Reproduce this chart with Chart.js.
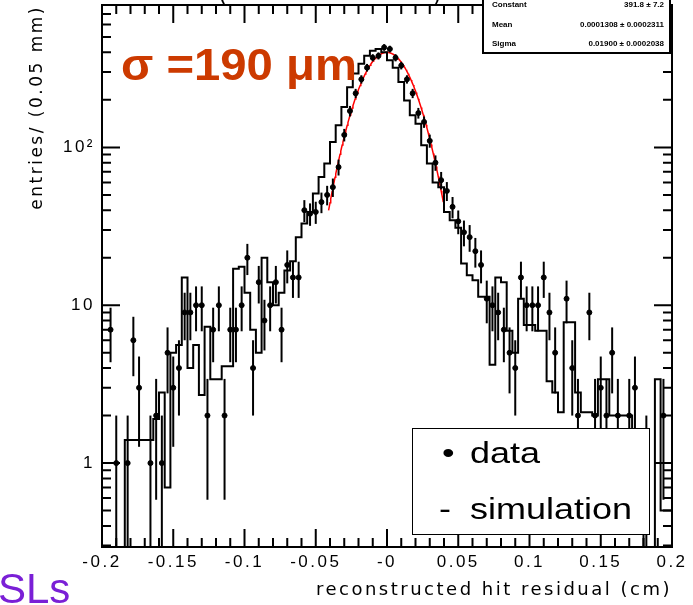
<!DOCTYPE html>
<html>
<head>
<meta charset="utf-8">
<script src="https://cdn.jsdelivr.net/npm/chart.js@4/dist/chart.umd.min.js"></script>
<style>
  html, body { margin: 0; padding: 0; background: #fff; }
  #wrap { width: 693px; height: 605px; }
</style>
</head>
<body>
<div id="wrap"><canvas id="c" width="693" height="605"></canvas></div>
<script>
// Axis ticks
const xTickValues = [-0.2, -0.15, -0.1, -0.05, 0, 0.05, 0.1, 0.15, 0.2];
const xTickLabels = ['-0.2', '-0.15', '-0.1', '-0.05', '-0', '0.05', '0.1', '0.15', '0.2'];
const yTickValues = [1, 10, 100];
const yTickLabels = ['1', '10', '10\u00B2'];

// Residual histogram binning (cm)
const binLow = -0.2;
const binWidth = 0.004;

// Measured hits per bin
const dataCounts = [
  0, 7, 1, 0, 1, 6, 3, 0, 1, 2,
  1, 5, 3, 4, 9, 9, 10, 10, 2, 7,
  10, 2, 7, 7, 10, 20, 4, 14, 8, 10,
  14, 7, 18, 15, 15, 40, 38, 39, 45, 50,
  56, 75, 120, 170, 220, 270, 320, 370, 380, 430,
  420, 370, 330, 270, 220, 165, 145, 110, 80, 62,
  53, 42, 34, 29, 27, 22, 18, 11, 10, 9,
  7, 5, 4, 15, 10, 10, 10, 15, 9, 5,
  0, 11, 4, 2, 0, 9, 2, 3, 2, 5,
  2, 0, 2, 3, 0, 1, 0, 0, 2, 0
];

// Simulated hits per bin (normalised)
const simCounts = [
  0, 0, 0, 0, 0, 1.4, 1.4, 1.4, 1.4, 1.4,
  1.9, 2.8, 0.7, 5, 5.6, 15, 4, 5.6, 2.7, 7.3,
  3.4, 3.4, 4.1, 4.1, 17, 17.5, 12, 7, 5, 20,
  14, 10, 12, 16.6, 19, 27, 33, 39, 51, 65,
  79, 108, 138, 180, 240, 294, 339, 380, 410, 420,
  400, 356, 320, 260, 198, 160, 141, 103, 79, 60,
  56, 39, 34.5, 31, 18.4, 15.5, 14.4, 11.3, 11.3, 4.2,
  15, 14, 6.9, 5, 11, 7.5, 7.5, 6.9, 6.9, 3.3,
  2.8, 2.1, 7.8, 7.8, 2.8, 2.1, 2.1, 2, 3.4, 3.4,
  2, 2, 2, 2, 1, 1, 0, 0, 3.4, 0.5
];

// Gaussian fit to the core (sigma = 190 um = 0.019 cm)
const fitConstant = 400;
const fitMean = -0.0002;
const fitSigma = 0.0190;
const fitRange = [-0.041, 0.0395];

const statsRows = [
  ['Constant', '391.8 \u00B1 7.2'],
  ['Mean', '0.0001308 \u00B1 0.0002311'],
  ['Sigma', '0.01900 \u00B1 0.0002038']
];

const yMin = 0.294, yMax = 798;

const binCenters = dataCounts.map((_, i) => binLow + (i + 0.5) * binWidth);
const binEdges = simCounts.map((_, i) => binLow + i * binWidth);

// step outline: value held from each lower edge to the next edge; empty bins drop below the axis
const simStep = simCounts.map((v, i) => ({ x: binEdges[i], y: v > 0 ? v : 1e-3 }));
simStep.push({ x: binLow + simCounts.length * binWidth, y: simCounts[simCounts.length - 1] || 1e-3 });

const dataPoints = dataCounts.map((n, i) => ({ x: binCenters[i], y: n > 0 ? n : null }));

const fitPoints = [];
for (let k = 0; k <= 160; k++) {
  const x = fitRange[0] + (fitRange[1] - fitRange[0]) * k / 160;
  fitPoints.push({ x, y: fitConstant * Math.exp(-0.5 * Math.pow((x - fitMean) / fitSigma, 2)) });
}

const AXIS_FONT = 'Liberation Sans, Arial, Helvetica, sans-serif';
const TITLE_FONT = 'DejaVu Sans, Verdana, sans-serif';

// ROOT-like axis text is spaced out; widen it only while the scales draw
const axisSpacing = {
  id: 'axisSpacing',
  beforeDraw(chart) { chart.ctx.letterSpacing = '2.5px'; },
  beforeDatasetsDraw(chart) { chart.ctx.letterSpacing = '0px'; }
};

const errorBars = {
  id: 'errorBars',
  afterDatasetsDraw(chart) {
    const { ctx, chartArea: a, scales: { x, y } } = chart;
    ctx.save();
    ctx.beginPath();
    ctx.rect(a.left, a.top, a.right - a.left, a.bottom - a.top);
    ctx.clip();
    ctx.strokeStyle = '#000';
    ctx.lineWidth = 2;
    dataCounts.forEach((n, i) => {
      if (!n) return;
      const px = x.getPixelForValue(binCenters[i]);
      const e = Math.sqrt(n);
      const lo = n - e > 0 ? y.getPixelForValue(n - e) : a.bottom + 2;
      const hi = y.getPixelForValue(n + e);
      ctx.beginPath();
      ctx.moveTo(px, lo);
      ctx.lineTo(px, hi);
      ctx.stroke();
    });
    ctx.restore();
  }
};

// frame with inward ticks on all four sides
const frameTicks = {
  id: 'frameTicks',
  afterDatasetsDraw(chart) {
    const { ctx, chartArea: a, scales: { x, y } } = chart;
    ctx.save();
    ctx.strokeStyle = '#000';
    ctx.lineWidth = 2;
    ctx.strokeRect(a.left, a.top, a.right - a.left, a.bottom - a.top);
    ctx.beginPath();
    for (let k = -20; k <= 20; k++) {
      const px = x.getPixelForValue(k / 100);
      const len = k % 5 === 0 ? 18 : 9;
      ctx.moveTo(px, a.bottom); ctx.lineTo(px, a.bottom - len);
      ctx.moveTo(px, a.top); ctx.lineTo(px, a.top + len);
    }
    [0.1, 1, 10, 100].forEach(d => {
      for (let m = 1; m <= 9; m++) {
        const v = m * d;
        if (v < yMin || v > yMax) continue;
        const py = y.getPixelForValue(v);
        const len = m === 1 ? 18 : 9;
        ctx.moveTo(a.left, py); ctx.lineTo(a.left + len, py);
        ctx.moveTo(a.right, py); ctx.lineTo(a.right - len, py);
      }
    });
    ctx.stroke();
    ctx.restore();
  }
};

function stretchedText(ctx, text, x, y, sx) {
  ctx.save();
  ctx.translate(x, y);
  ctx.scale(sx, 1);
  ctx.fillText(text, 0, 0);
  ctx.restore();
}

const annotations = {
  id: 'annotations',
  afterDraw(chart) {
    const ctx = chart.ctx;
    ctx.save();
    ctx.letterSpacing = '0px';

    // fit statistics box
    ctx.fillStyle = '#fff';
    ctx.fillRect(483, -10, 187, 63);
    ctx.strokeStyle = '#000';
    ctx.lineWidth = 2;
    ctx.strokeRect(483, -10, 187, 63);
    ctx.fillStyle = '#000';
    ctx.font = 'bold 8px ' + AXIS_FONT;
    ctx.textBaseline = 'middle';
    statsRows.forEach((r, i) => {
      const yy = 5 + i * 19.5;
      ctx.textAlign = 'left';
      ctx.fillText(r[0], 492, yy);
      ctx.textAlign = 'right';
      ctx.fillText(r[1], 664, yy);
    });

    // cut-off title brackets
    ctx.font = '22px ' + AXIS_FONT;
    ctx.textAlign = 'center';
    ctx.textBaseline = 'alphabetic';
    ctx.fillText('(', 223, 1);
    ctx.fillText(')', 437, 1);

    // resolution label
    ctx.fillStyle = '#cc3a00';
    ctx.font = 'bold 45px ' + AXIS_FONT;
    ctx.textAlign = 'left';
    stretchedText(ctx, '\u03C3 =190 \u03BCm', 121, 80, 1.05);

    // legend
    ctx.fillStyle = '#fff';
    ctx.fillRect(412, 428, 237, 106);
    ctx.strokeStyle = '#000';
    ctx.lineWidth = 1;
    ctx.strokeRect(412.5, 428.5, 237, 106);
    ctx.fillStyle = '#000';
    ctx.font = '30px ' + AXIS_FONT;
    stretchedText(ctx, '\u2022', 442, 463, 1.2);
    stretchedText(ctx, 'data', 470, 463, 1.2);
    stretchedText(ctx, '-', 439, 519, 1.2);
    stretchedText(ctx, 'simulation', 470, 519, 1.2);

    // superlayer tag
    ctx.fillStyle = '#7a1fd6';
    ctx.font = '42px ' + AXIS_FONT;
    ctx.fillText('SLs', -2, 603);
    ctx.restore();
  }
};

new Chart(document.getElementById('c'), {
  data: {
    datasets: [
      {
        type: 'line',
        label: 'fit',
        data: fitPoints,
        borderColor: '#ff0000',
        borderWidth: 1.5,
        pointRadius: 0,
        order: 3
      },
      {
        type: 'line',
        label: 'simulation',
        data: simStep,
        stepped: 'after',
        borderColor: '#000',
        borderWidth: 2,
        pointRadius: 0,
        fill: false,
        order: 2
      },
      {
        type: 'scatter',
        label: 'data',
        data: dataPoints,
        backgroundColor: '#000',
        borderColor: '#000',
        pointRadius: 2.5,
        order: 1
      }
    ]
  },
  options: {
    responsive: false,
    devicePixelRatio: 1,
    animation: false,
    layout: { padding: { top: 4, right: 21, left: 0, bottom: 0 } },
    plugins: { legend: { display: false }, tooltip: { enabled: false } },
    scales: {
      x: {
        type: 'linear',
        min: -0.2,
        max: 0.2,
        grid: { display: false, drawTicks: false },
        border: { display: false },
        afterBuildTicks(scale) { scale.ticks = xTickValues.map(v => ({ value: v })); },
        afterFit(scale) {
          scale.height = 58;
          scale.paddingLeft = 0;
          scale.paddingRight = 0;
        },
        ticks: {
          padding: 5,
          color: '#000',
          maxRotation: 0,
          autoSkip: false,
          font: { family: AXIS_FONT, size: 17 },
          callback(value) {
            const i = xTickValues.findIndex(v => Math.abs(v - value) < 1e-9);
            return i >= 0 ? xTickLabels[i] : '';
          }
        },
        title: {
          display: true,
          text: 'reconstructed hit residual (cm)',
          align: 'end',
          color: '#000',
          font: { family: TITLE_FONT, size: 18 },
          padding: { top: 0, bottom: 4 }
        }
      },
      y: {
        type: 'logarithmic',
        min: yMin,
        max: yMax,
        grid: { display: false, drawTicks: false },
        border: { display: false },
        afterBuildTicks(scale) { scale.ticks = yTickValues.map(v => ({ value: v })); },
        afterFit(scale) {
          scale.width = 102;
          scale.paddingTop = 0;
          scale.paddingBottom = 0;
        },
        ticks: {
          padding: 7,
          color: '#000',
          autoSkip: false,
          font: { family: AXIS_FONT, size: 17 },
          callback(value) {
            const i = yTickValues.indexOf(value);
            return i >= 0 ? yTickLabels[i] : '';
          }
        },
        title: {
          display: true,
          text: 'entries/ (0.05 mm)',
          align: 'end',
          color: '#000',
          font: { family: TITLE_FONT, size: 17 },
          padding: { top: 27, bottom: 0 }
        }
      }
    }
  },
  plugins: [axisSpacing, errorBars, frameTicks, annotations]
});
</script>
</body>
</html>
